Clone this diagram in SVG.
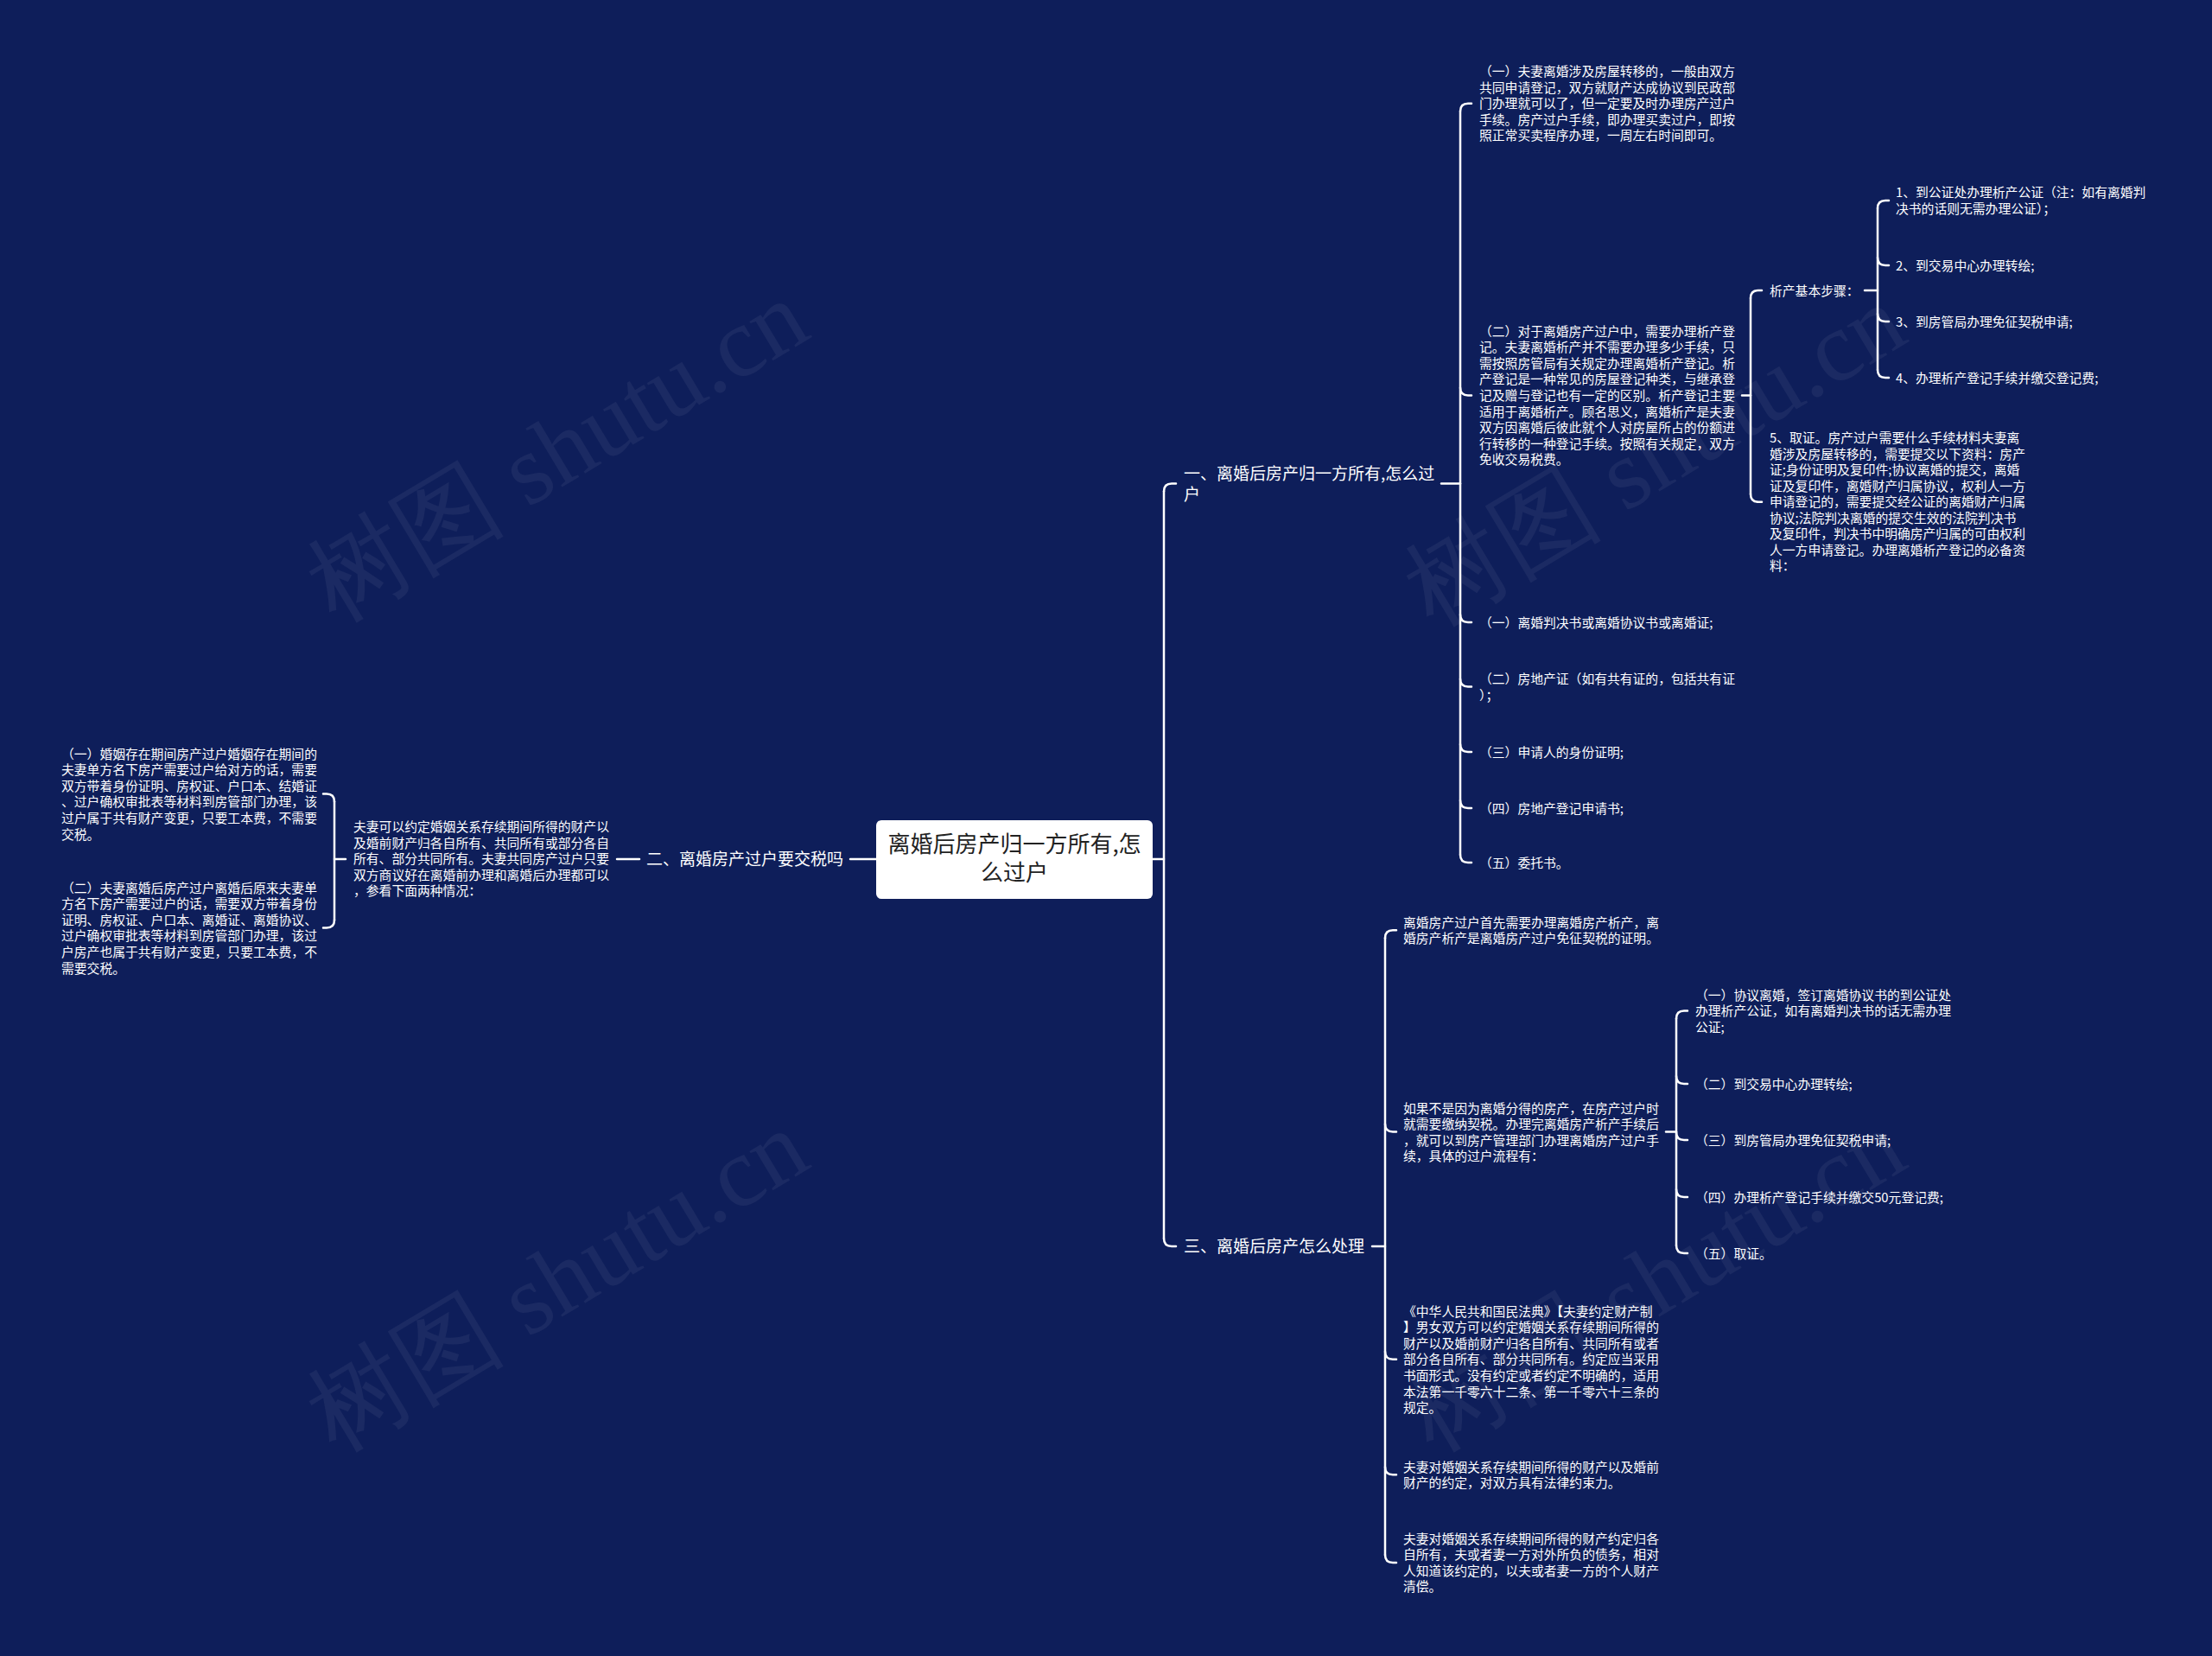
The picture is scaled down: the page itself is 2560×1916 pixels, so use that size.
<svg xmlns="http://www.w3.org/2000/svg" width="2560" height="1916" viewBox="0 0 2560 1916">
<style>
.t{font-family:"Noto Sans CJK SC","Microsoft YaHei",sans-serif;font-size:14.8px;fill:#ffffff}
.b{font-family:"Noto Sans CJK SC","Microsoft YaHei",sans-serif;font-size:19px;fill:#ffffff}
.c{font-family:"Noto Sans CJK SC","Microsoft YaHei",sans-serif;font-size:26px;fill:#222222}
.ln{fill:none;stroke:#ffffff;stroke-width:2.5;stroke-linecap:round}
.wm{font-family:"Liberation Serif",serif;font-size:115px;fill:#ffffff;fill-opacity:0.055}
</style>
<rect width="2560" height="1916" fill="#0e1e5a"/>
<g id="watermarks">
<text class="wm" text-anchor="middle" transform="translate(665,555) rotate(-31)">树图 shutu.cn</text>
<text class="wm" text-anchor="middle" transform="translate(1935,560) rotate(-31)">树图 shutu.cn</text>
<text class="wm" text-anchor="middle" transform="translate(665,1515) rotate(-31)">树图 shutu.cn</text>
<text class="wm" text-anchor="middle" transform="translate(1935,1515) rotate(-31)">树图 shutu.cn</text>
</g>
<g id="connectors">
<path class="ln" d="M1334,994 H1347"/>
<path class="ln" d="M1347,568.5 V1433"/>
<path class="ln" d="M1347,568.5 Q1347,559.5 1356,559.5 H1361"/>
<path class="ln" d="M1347,1433 Q1347,1442 1356,1442 H1361"/>
<path class="ln" d="M984,994 H1014"/>
<path class="ln" d="M714,994 H740"/>
<path class="ln" d="M387,994 H400"/>
<path class="ln" d="M387,927.5 V1064.5"/>
<path class="ln" d="M387,927.5 Q387,918.5 378,918.5 H374"/>
<path class="ln" d="M387,1064.5 Q387,1073.5 378,1073.5 H374"/>
<path class="ln" d="M1668,559.5 H1690"/>
<path class="ln" d="M1690,128.7 V989"/>
<path class="ln" d="M1690,128.7 Q1690,119.7 1699,119.7 H1703"/>
<path class="ln" d="M1690,448.4 Q1690,457.4 1699,457.4 H1703"/>
<path class="ln" d="M1690,711 Q1690,720 1699,720 H1703"/>
<path class="ln" d="M1690,785.5 Q1690,794.5 1699,794.5 H1703"/>
<path class="ln" d="M1690,861 Q1690,870 1699,870 H1703"/>
<path class="ln" d="M1690,926 Q1690,935 1699,935 H1703"/>
<path class="ln" d="M1690,989 Q1690,998 1699,998 H1703"/>
<path class="ln" d="M2016,457.4 H2026"/>
<path class="ln" d="M2026,345 V571.7"/>
<path class="ln" d="M2026,345 Q2026,336 2035,336 H2039"/>
<path class="ln" d="M2026,571.7 Q2026,580.7 2035,580.7 H2039"/>
<path class="ln" d="M2158,336 H2173"/>
<path class="ln" d="M2173,241 V428"/>
<path class="ln" d="M2173,241 Q2173,232 2182,232 H2186"/>
<path class="ln" d="M2173,298 Q2173,307 2182,307 H2186"/>
<path class="ln" d="M2173,363 Q2173,372 2182,372 H2186"/>
<path class="ln" d="M2173,428 Q2173,437 2182,437 H2186"/>
<path class="ln" d="M1588,1442 H1603"/>
<path class="ln" d="M1603,1085.3 V1798.9"/>
<path class="ln" d="M1603,1085.3 Q1603,1076.3 1612,1076.3 H1616"/>
<path class="ln" d="M1603,1300.5 Q1603,1309.5 1612,1309.5 H1616"/>
<path class="ln" d="M1603,1563.8 Q1603,1572.8 1612,1572.8 H1616"/>
<path class="ln" d="M1603,1697.3 Q1603,1706.3 1612,1706.3 H1616"/>
<path class="ln" d="M1603,1798.9 Q1603,1807.9 1612,1807.9 H1616"/>
<path class="ln" d="M1928,1309.5 H1940"/>
<path class="ln" d="M1940,1178.6 V1441"/>
<path class="ln" d="M1940,1178.6 Q1940,1169.6 1949,1169.6 H1953"/>
<path class="ln" d="M1940,1245 Q1940,1254 1949,1254 H1953"/>
<path class="ln" d="M1940,1310 Q1940,1319 1949,1319 H1953"/>
<path class="ln" d="M1940,1376 Q1940,1385 1949,1385 H1953"/>
<path class="ln" d="M1940,1441 Q1940,1450 1949,1450 H1953"/>
</g>
<g id="center">
<rect x="1014" y="949" width="320" height="91" rx="6" fill="#ffffff"/>
<text class="c" text-anchor="middle"><tspan x="1174" y="986">离婚后房产归一方所有,怎</tspan><tspan x="1174" y="1019">么过户</tspan></text>
</g>
<g id="branch1">
<text class="b"><tspan x="1370" y="554.5">一、离婚后房产归一方所有,怎么过</tspan><tspan x="1370" y="578.5">户</tspan></text>
</g>
<g id="b1-n1">
<text class="t"><tspan x="1712" y="88">（一）夫妻离婚涉及房屋转移的，一般由双方</tspan><tspan x="1712" y="106.6">共同申请登记，双方就财产达成协议到民政部</tspan><tspan x="1712" y="125.2">门办理就可以了，但一定要及时办理房产过户</tspan><tspan x="1712" y="143.8">手续。房产过户手续，即办理买卖过户，即按</tspan><tspan x="1712" y="162.4">照正常买卖程序办理，一周左右时间即可。</tspan></text>
</g>
<g id="b1-n2">
<text class="t"><tspan x="1712" y="388.5">（二）对于离婚房产过户中，需要办理析产登</tspan><tspan x="1712" y="407.1">记。夫妻离婚析产并不需要办理多少手续，只</tspan><tspan x="1712" y="425.7">需按照房管局有关规定办理离婚析产登记。析</tspan><tspan x="1712" y="444.3">产登记是一种常见的房屋登记种类，与继承登</tspan><tspan x="1712" y="462.9">记及赠与登记也有一定的区别。析产登记主要</tspan><tspan x="1712" y="481.5">适用于离婚析产。顾名思义，离婚析产是夫妻</tspan><tspan x="1712" y="500.1">双方因离婚后彼此就个人对房屋所占的份额进</tspan><tspan x="1712" y="518.7">行转移的一种登记手续。按照有关规定，双方</tspan><tspan x="1712" y="537.3">免收交易税费。</tspan></text>
</g>
<g id="b1-steps">
<text class="t" x="2048" y="341.5">析产基本步骤：</text>
</g>
<g id="step1"><text class="t"><tspan x="2194" y="227.5">1、到公证处办理析产公证（注：如有离婚判</tspan><tspan x="2194" y="247">决书的话则无需办理公证）；</tspan></text></g>
<g id="step2"><text class="t" x="2194" y="312.5">2、到交易中心办理转绘;</text></g>
<g id="step3"><text class="t" x="2194" y="377.5">3、到房管局办理免征契税申请;</text></g>
<g id="step4"><text class="t" x="2194" y="442.5">4、办理析产登记手续并缴交登记费;</text></g>
<g id="step5">
<text class="t"><tspan x="2048" y="512">5、取证。房产过户需要什么手续材料夫妻离</tspan><tspan x="2048" y="530.55">婚涉及房屋转移的，需要提交以下资料：房产</tspan><tspan x="2048" y="549.1">证;身份证明及复印件;协议离婚的提交，离婚</tspan><tspan x="2048" y="567.65">证及复印件，离婚财产归属协议，权利人一方</tspan><tspan x="2048" y="586.2">申请登记的，需要提交经公证的离婚财产归属</tspan><tspan x="2048" y="604.75">协议;法院判决离婚的提交生效的法院判决书</tspan><tspan x="2048" y="623.3">及复印件，判决书中明确房产归属的可由权利</tspan><tspan x="2048" y="641.85">人一方申请登记。办理离婚析产登记的必备资</tspan><tspan x="2048" y="660.4">料：</tspan></text>
</g>
<g id="doc1"><text class="t" x="1712" y="725.5">（一）离婚判决书或离婚协议书或离婚证;</text></g>
<g id="doc2"><text class="t"><tspan x="1712" y="790.5">（二）房地产证（如有共有证的，包括共有证</tspan><tspan x="1712" y="809.5">）；</tspan></text></g>
<g id="doc3"><text class="t" x="1712" y="875.5">（三）申请人的身份证明;</text></g>
<g id="doc4"><text class="t" x="1712" y="940.5">（四）房地产登记申请书;</text></g>
<g id="doc5"><text class="t" x="1712" y="1003.5">（五）委托书。</text></g>
<g id="branch2">
<text class="b" x="748" y="1001">二、离婚房产过户要交税吗</text>
</g>
<g id="b2-n1">
<text class="t"><tspan x="409" y="962">夫妻可以约定婚姻关系存续期间所得的财产以</tspan><tspan x="409" y="980.6">及婚前财产归各自所有、共同所有或部分各自</tspan><tspan x="409" y="999.2">所有、部分共同所有。夫妻共同房产过户只要</tspan><tspan x="409" y="1017.8">双方商议好在离婚前办理和离婚后办理都可以</tspan><tspan x="409" y="1036.4">，参看下面两种情况：</tspan></text>
</g>
<g id="b2-c1">
<text class="t"><tspan x="71" y="877.5">（一）婚姻存在期间房产过户婚姻存在期间的</tspan><tspan x="71" y="896.1">夫妻单方名下房产需要过户给对方的话，需要</tspan><tspan x="71" y="914.7">双方带着身份证明、房权证、户口本、结婚证</tspan><tspan x="71" y="933.3">、过户确权审批表等材料到房管部门办理，该</tspan><tspan x="71" y="951.9">过户属于共有财产变更，只要工本费，不需要</tspan><tspan x="71" y="970.5">交税。</tspan></text>
</g>
<g id="b2-c2">
<text class="t"><tspan x="71" y="1032.5">（二）夫妻离婚后房产过户离婚后原来夫妻单</tspan><tspan x="71" y="1051.1">方名下房产需要过户的话，需要双方带着身份</tspan><tspan x="71" y="1069.7">证明、房权证、户口本、离婚证、离婚协议、</tspan><tspan x="71" y="1088.3">过户确权审批表等材料到房管部门办理，该过</tspan><tspan x="71" y="1106.9">户房产也属于共有财产变更，只要工本费，不</tspan><tspan x="71" y="1125.5">需要交税。</tspan></text>
</g>
<g id="branch3">
<text class="b" x="1370" y="1449">三、离婚后房产怎么处理</text>
</g>
<g id="b3-n1"><text class="t"><tspan x="1624" y="1072.5">离婚房产过户首先需要办理离婚房产析产，离</tspan><tspan x="1624" y="1091.1">婚房产析产是离婚房产过户免征契税的证明。</tspan></text></g>
<g id="b3-n2"><text class="t"><tspan x="1624" y="1287.5">如果不是因为离婚分得的房产，在房产过户时</tspan><tspan x="1624" y="1306.1">就需要缴纳契税。办理完离婚房产析产手续后</tspan><tspan x="1624" y="1324.7">，就可以到房产管理部门办理离婚房产过户手</tspan><tspan x="1624" y="1343.3">续，具体的过户流程有：</tspan></text></g>
<g id="p1"><text class="t"><tspan x="1962" y="1156.5">（一）协议离婚，签订离婚协议书的到公证处</tspan><tspan x="1962" y="1175.1">办理析产公证，如有离婚判决书的话无需办理</tspan><tspan x="1962" y="1193.7">公证;</tspan></text></g>
<g id="p2"><text class="t" x="1962" y="1259.5">（二）到交易中心办理转绘;</text></g>
<g id="p3"><text class="t" x="1962" y="1324.5">（三）到房管局办理免征契税申请;</text></g>
<g id="p4"><text class="t" x="1962" y="1390.5">（四）办理析产登记手续并缴交50元登记费;</text></g>
<g id="p5"><text class="t" x="1962" y="1455.5">（五）取证。</text></g>
<g id="b3-n3"><text class="t"><tspan x="1624" y="1522.5">《中华人民共和国民法典》【夫妻约定财产制</tspan><tspan x="1624" y="1541.1">】男女双方可以约定婚姻关系存续期间所得的</tspan><tspan x="1624" y="1559.7">财产以及婚前财产归各自所有、共同所有或者</tspan><tspan x="1624" y="1578.3">部分各自所有、部分共同所有。约定应当采用</tspan><tspan x="1624" y="1596.9">书面形式。没有约定或者约定不明确的，适用</tspan><tspan x="1624" y="1615.5">本法第一千零六十二条、第一千零六十三条的</tspan><tspan x="1624" y="1634.1">规定。</tspan></text></g>
<g id="b3-n4"><text class="t"><tspan x="1624" y="1702.5">夫妻对婚姻关系存续期间所得的财产以及婚前</tspan><tspan x="1624" y="1721.1">财产的约定，对双方具有法律约束力。</tspan></text></g>
<g id="b3-n5"><text class="t"><tspan x="1624" y="1785.5">夫妻对婚姻关系存续期间所得的财产约定归各</tspan><tspan x="1624" y="1804.1">自所有，夫或者妻一方对外所负的债务，相对</tspan><tspan x="1624" y="1822.7">人知道该约定的，以夫或者妻一方的个人财产</tspan><tspan x="1624" y="1841.3">清偿。</tspan></text></g>
</svg>
